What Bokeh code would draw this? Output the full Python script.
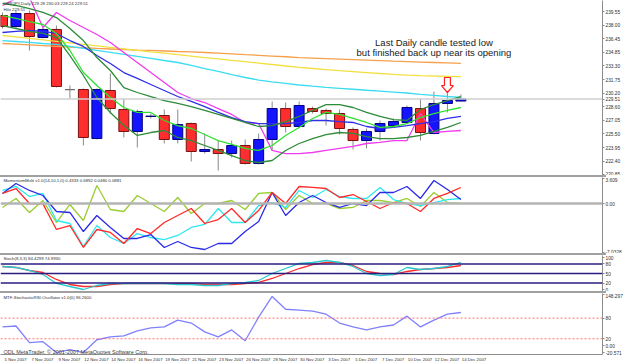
from bokeh.plotting import figure
from bokeh.layouts import column
from bokeh.models import (Range1d, FixedTicker, Span, Label, Div, PrintfTickFormatter)
from bokeh.embed import file_html
from bokeh.resources import INLINE

# ---------------- data ----------------
dates = ["5 Nov 2007", "6 Nov 2007", "7 Nov 2007", "8 Nov 2007", "9 Nov 2007",
         "11 Nov 2007", "12 Nov 2007", "13 Nov 2007", "14 Nov 2007", "15 Nov 2007", "16 Nov 2007",
         "18 Nov 2007", "19 Nov 2007", "20 Nov 2007", "21 Nov 2007", "22 Nov 2007", "23 Nov 2007",
         "25 Nov 2007", "26 Nov 2007", "27 Nov 2007", "28 Nov 2007", "29 Nov 2007", "30 Nov 2007",
         "2 Dec 2007", "3 Dec 2007", "4 Dec 2007", "5 Dec 2007", "6 Dec 2007", "7 Dec 2007",
         "9 Dec 2007", "10 Dec 2007", "11 Dec 2007", "12 Dec 2007", "13 Dec 2007", "14 Dec 2007"]

opens = [239.09, 237.83, 239.32, 236.57, 237.49, 230.58, 230.60, 224.98, 230.49, 228.31,
         225.79, 227.51, 227.62, 224.87, 226.70, 223.49, 223.72, 223.26, 224.18, 222.12,
         224.87, 228.42, 226.36, 228.42, 228.20, 227.85, 226.02, 224.75, 225.79, 226.47,
         226.82, 228.42, 225.56, 229.00, 229.28]
highs = [239.44, 239.67, 239.67, 237.72, 237.94, 231.06, 230.72, 230.72, 232.44, 229.57,
         228.31, 227.85, 228.31, 228.31, 226.82, 225.56, 224.75, 224.75, 224.87, 225.56,
         229.23, 229.11, 229.23, 228.65, 228.42, 228.31, 226.25, 226.13, 227.05, 227.28,
         228.77, 229.57, 230.37, 230.26, 230.03]
lows = [237.60, 237.60, 235.08, 236.45, 230.83, 229.57, 224.18, 224.87, 227.85, 225.10,
        223.95, 227.28, 224.41, 224.41, 222.35, 223.26, 221.31, 222.80, 222.00, 222.00,
        223.61, 225.67, 226.25, 227.85, 226.47, 225.44, 223.72, 223.84, 224.75, 226.25,
        226.70, 224.75, 225.44, 227.97, 229.24]
closes = [237.83, 239.32, 236.68, 237.49, 230.95, 230.58, 225.10, 230.60, 228.42, 225.79,
          228.08, 227.55, 224.87, 226.59, 223.49, 223.72, 223.26, 224.18, 222.12, 224.87,
          228.42, 226.36, 228.77, 228.08, 227.85, 226.13, 224.75, 225.79, 226.70, 226.93,
          228.54, 225.67, 229.00, 229.34, 229.51]

ma_orange = [235.88, 235.80, 235.72, 235.64, 235.56, 235.47, 235.39, 235.31, 235.25, 235.19,
             235.13, 235.08, 235.02, 234.96, 234.91, 234.85, 234.77, 234.69, 234.60, 234.52,
             234.44, 234.36, 234.27, 234.21, 234.15, 234.09, 234.03, 233.97, 233.91, 233.85,
             233.80, 233.75, 233.70, 233.65, 233.59]
ma_yellow = [236.80, 236.63, 236.46, 236.29, 236.12, 235.95, 235.78, 235.61, 235.44, 235.27,
             235.10, 234.93, 234.77, 234.60, 234.44, 234.27, 234.11, 233.95, 233.79, 233.63,
             233.47, 233.30, 233.13, 233.01, 232.89, 232.77, 232.66, 232.55, 232.44, 232.34,
             232.26, 232.20, 232.15, 232.11, 232.07]
ma_cyan = [236.22, 236.11, 236.00, 235.88, 235.77, 235.56, 235.33, 235.10, 234.87, 234.64,
           234.41, 234.18, 233.93, 233.70, 233.36, 233.01, 232.67, 232.32, 231.98, 231.69,
           231.47, 231.30, 231.12, 230.98, 230.85, 230.74, 230.63, 230.52, 230.42, 230.31,
           230.20, 230.05, 229.92, 229.80, 229.69]
hilo_magenta = [240.24, 241.04, 241.16, 237.72, 239.44, 238.52, 237.72, 236.91, 236.00, 234.85,
                233.70, 232.55, 231.41, 230.26, 229.57, 229.11, 228.42, 227.74, 226.82, 226.70,
                223.61, 223.26, 223.26, 223.38, 223.61, 223.84, 224.07, 224.41, 224.53, 224.75,
                224.75, 227.85, 225.67, 225.79, 225.90]
ma_blue = [237.14, 237.26, 237.37, 237.26, 237.03, 236.22, 235.54, 234.50, 233.59, 232.55,
           231.87, 231.18, 230.49, 229.80, 229.23, 228.65, 227.97, 227.39, 226.93, 226.70,
           226.70, 226.70, 226.82, 227.05, 227.05, 226.93, 226.82, 226.36, 226.13, 226.25,
           226.47, 226.70, 226.93, 227.28, 227.51]
band_upper = [240.47, 240.24, 239.89, 239.44, 238.86, 237.60, 236.22, 234.27, 232.78, 230.83,
              230.26, 229.80, 229.34, 229.00, 228.65, 228.20, 227.74, 227.28, 226.82, 226.36,
              226.47, 226.93, 227.51, 228.20, 228.88, 228.88, 228.54, 227.97, 227.51, 227.16,
              227.05, 228.31, 228.88, 229.34, 229.80]
band_mid = [239.09, 238.75, 238.40, 238.06, 237.03, 235.08, 232.55, 231.06, 229.69, 228.54,
            227.97, 227.97, 227.05, 226.47, 226.13, 225.44, 224.75, 224.30, 223.84, 223.61,
            224.18, 225.33, 226.25, 227.28, 227.97, 227.74, 227.28, 226.82, 226.25, 226.36,
            226.70, 227.39, 227.85, 228.20, 228.54]
band_lower = [237.94, 237.60, 237.26, 237.03, 236.57, 234.50, 232.21, 229.69, 227.97, 226.47,
              225.33, 225.67, 225.90, 225.10, 224.75, 224.18, 223.61, 223.03, 222.46, 222.23,
              222.46, 223.61, 224.41, 224.98, 225.44, 225.67, 225.56, 225.21, 224.98, 224.98,
              225.10, 225.33, 225.79, 226.25, 226.82]

mom_red = [1.44, 2.15, 0.00, -0.05, -3.73, -3.16, -6.31, -3.73, -4.16, -5.74,
           -3.59, -4.31, -2.73, -1.72, -0.72, -2.87, -2.30, -0.72, -2.73, -1.00,
           1.58, 0.00, 2.44, 2.30, 2.15, 0.86, 1.29, 0.29, -0.72, 0.14,
           0.00, -1.15, 0.72, 1.44, 2.30]
mom_blue = [1.44, 2.87, 1.87, 1.15, -1.15, -1.29, -4.02, -1.72, -3.44, -5.02,
            -5.02, -4.45, -6.31, -5.45, -6.31, -6.60, -5.74, -5.74, -4.02, -2.58,
            1.58, -1.72, 0.14, 1.15, 0.14, -0.57, 0.00, -0.29, 1.58, 1.58,
            2.44, 0.72, 3.30, 2.01, 0.57]
mom_cyan = [1.87, 2.44, 1.00, 1.44, -2.44, -2.87, -6.17, -3.16, -4.88, -5.74,
            -4.31, -4.88, -5.17, -4.59, -3.44, -3.01, -0.72, -2.73, -2.73, -0.29,
            0.14, -0.57, 1.87, 0.86, 2.01, 1.00, 0.72, 0.72, 2.30, 0.57,
            0.00, -0.29, 0.14, 0.57, 0.72]
mom_olive = [-0.57, 0.72, -1.29, 0.43, -2.73, -0.14, -2.44, 2.58, -0.86, -1.15,
             1.15, 0.00, -1.15, 0.86, -1.44, 0.00, 0.00, 0.43, -0.86, 1.44,
             1.58, -0.86, 1.15, 0.00, 0.00, -0.72, -0.57, 0.43, 0.43, 0.14,
             0.72, -0.43, 1.58, 0.14, 0.00]

stoch_main = [71.9, 68.8, 59.4, 46.9, 18.8, 9.4, 0.0, 12.5, 18.8, 18.8,
              18.8, 18.8, 18.8, 15.6, 15.6, 12.5, 12.5, 18.8, 21.9, 28.1,
              50.0, 65.6, 81.3, 84.4, 90.6, 84.4, 71.9, 50.0, 43.8, 46.9,
              68.8, 62.5, 65.6, 71.9, 84.43]
stoch_signal = [71.9, 68.8, 59.4, 53.1, 31.3, 15.6, 9.4, 9.4, 15.6, 18.8,
                18.8, 18.8, 18.8, 18.8, 18.8, 15.6, 15.6, 15.6, 18.8, 21.9,
                34.4, 50.0, 65.6, 78.1, 84.4, 84.4, 75.0, 56.3, 50.0, 46.9,
                56.3, 62.5, 65.6, 68.8, 74.99]

srsi = [54.3, 57.1, 8.6, 11.4, -20.0, -11.4, -20.0, 17.1, 25.7, 28.6,
        42.9, 51.4, 54.3, 74.3, 65.7, 40.0, 25.7, 45.7, 14.3, 82.9,
        142.9, 105.7, 102.9, 100.0, 91.4, 65.7, 54.3, 45.7, 54.3, 60.0,
        85.7, 54.3, 74.3, 91.4, 96.26]

price_ticks = [239.55, 238.00, 236.45, 234.85, 233.30, 231.75, 230.20, 229.51, 228.60,
               227.05, 225.50, 223.95, 222.40, 220.85]
mom_ticks = {3.609: "3.609", 0: "0.00", -7.0328: "-7.0328"}
stoch_ticks = {100: "100", 80: "80", 50: "50", 20: "20", 0: "0"}
stoch_levels = [80, 50, 20]
rsi_ticks = {148.297: "148.297", 80: "80", 20: "20", 0: "0.00", -20.571: "-20.571"}
rsi_levels = [80, 20]

main_title = "GBPJPY,Daily  229.28 230.03 229.24 229.51"
main_sub = "Hilo 229.51"
mom_title = "MomentumMulti v1.0(14,10,1,0) 0.4333 0.6892 0.0480 0.0881"
stoch_title = "Stoch(8,3,3) 84.4299 74.9930"
rsi_title = "MTF-StochasticRSI-Oscillator v1.0(0) 96.2600"
note1 = "Last Daily candle tested low"
note2 = "but finished back up near its opening"
copyright_text = "ODL MetaTrader, \u00a9 2001-2007 MetaQuotes Software Corp."

# ---------------- layout helpers ----------------
FONT = "Liberation Sans"
FRAME_W = 605
BAR_PX = 13.55
x0 = -2.0 / BAR_PX
xr = Range1d(x0, x0 + FRAME_W / BAR_PX)
idx = list(range(len(closes)))


def pane(height, rng, bottom=0, xaxis=False):
    p = figure(width=625, height=height, x_range=xr, y_range=rng,
               output_backend="svg", toolbar_location=None,
               x_axis_location="below" if xaxis else None, y_axis_location="right",
               min_border_left=0, min_border_right=20, min_border_top=0,
               min_border_bottom=bottom)
    p.grid.visible = False
    p.outline_line_color = None
    p.background_fill_color = "white"
    p.border_fill_color = "white"
    ax = p.yaxis[0]
    ax.axis_line_color = "#8c8c8c"
    ax.axis_line_width = 1
    ax.major_tick_line_color = "#8c8c8c"
    ax.major_tick_out = 2
    ax.major_tick_in = 0
    ax.minor_tick_line_color = None
    ax.major_label_standoff = 1
    ax.major_label_text_font = FONT
    ax.major_label_text_font_size = "4.8px"
    ax.major_label_text_color = "#303030"
    return p


def ypos(p, px):
    fh = p.height - p.min_border_bottom
    r = p.y_range
    return r.end - px * (r.end - r.start) / fh


def title(p, text, px, size="4.3px"):
    p.add_layout(Label(x=xr.start, y=ypos(p, px), x_offset=3, text=text,
                       text_font=FONT, text_font_size=size, text_color="#303030",
                       text_baseline="middle"))


# ---------------- main price pane ----------------
pm = pane(175, Range1d(220.74, 240.812))
pm.yaxis[0].ticker = FixedTicker(ticks=price_ticks)
pm.yaxis[0].formatter = PrintfTickFormatter(format="%.2f")

pm.add_layout(Span(location=closes[-1], dimension="width", line_color="#cfcfcf", line_width=1.5))

pm.segment(x0=idx, y0=lows, x1=idx, y1=highs, line_color="#8a8a8a", line_width=1)
up = [i for i in idx if closes[i] > opens[i]]
dn = [i for i in idx if closes[i] < opens[i]]
eq = [i for i in idx if closes[i] == opens[i]]
pm.vbar(x=up, width=0.74, top=[closes[i] for i in up], bottom=[opens[i] for i in up],
        fill_color="#1414ff", line_color="#000080", line_width=1)
pm.vbar(x=dn, width=0.74, top=[opens[i] for i in dn], bottom=[closes[i] for i in dn],
        fill_color="#ff2e2e", line_color="#7a1010", line_width=1)
pm.segment(x0=[i - 0.37 for i in eq], y0=[opens[i] for i in eq],
           x1=[i + 0.37 for i in eq], y1=[opens[i] for i in eq],
           line_color="#707070", line_width=1.2)

for series, col in [(ma_orange, "#f5a04a"), (ma_yellow, "#f2e040"), (ma_cyan, "#3cdcf0"),
                    (hilo_magenta, "#ee3cee"), (ma_blue, "#2f2fe6"),
                    (band_upper, "#2e8b3a"), (band_lower, "#2e8b3a"), (band_mid, "#30e030")]:
    pm.line(idx, series, line_color=col, line_width=1.3)

# hollow red arrow above the last-but-one candle
ab = 33
tip = highs[ab]
hx, sx, hh, sh = 0.44, 0.22, 0.8, 1.72
pm.patch([ab, ab - hx, ab - sx, ab - sx, ab + sx, ab + sx, ab + hx],
         [tip, tip + hh, tip + hh, tip + sh, tip + sh, tip + hh, tip + hh],
         fill_color="white", line_color="#ff2020", line_width=1.2)

pm.add_layout(Label(x=32.0, y=ypos(pm, 41.5), text=note1, text_font=FONT,
                    text_font_size="9.5px", text_color="#202020", text_align="center",
                    text_baseline="alphabetic"))
pm.add_layout(Label(x=32.0, y=ypos(pm, 51.5), text=note2, text_font=FONT,
                    text_font_size="9.5px", text_color="#202020", text_align="center",
                    text_baseline="alphabetic"))
title(pm, main_title, 3)
title(pm, main_sub, 9)

# ---------------- momentum pane ----------------
pmo = pane(76, Range1d(-7.175, 3.731))
pmo.yaxis[0].ticker = FixedTicker(ticks=list(mom_ticks.keys()))
pmo.yaxis[0].major_label_overrides = mom_ticks
pmo.add_layout(Span(location=0, dimension="width", line_color="#b4b4b4", line_width=2.5))
for series, col in [(mom_olive, "#9acd32"), (mom_cyan, "#2ee8f0"),
                    (mom_blue, "#2a2ae6"), (mom_red, "#ff2a2a")]:
    pmo.line(idx, series, line_color=col, line_width=1.3)
title(pmo, mom_title, 3)

# ---------------- stochastic pane ----------------
pst = pane(36, Range1d(-6.25, 106.25))
pst.yaxis[0].ticker = FixedTicker(ticks=list(stoch_ticks.keys()))
pst.yaxis[0].major_label_overrides = stoch_ticks
for lv in stoch_levels:
    pst.add_layout(Span(location=lv, dimension="width", line_color="#2a1c80", line_width=1.5))
pst.line(idx, stoch_signal, line_color="#ff2a2a", line_width=1.3)
pst.line(idx, stoch_main, line_color="#28c8d0", line_width=1.3)
title(pst, stoch_title, 3)

# ---------------- stochastic RSI pane + date axis ----------------
prs = pane(71, Range1d(-25.71, 151.43), bottom=9, xaxis=True)
prs.yaxis[0].ticker = FixedTicker(ticks=list(rsi_ticks.keys()))
prs.yaxis[0].major_label_overrides = rsi_ticks
for lv in rsi_levels:
    prs.add_layout(Span(location=lv, dimension="width", line_color="#ff7070",
                        line_width=1, line_dash="2 2"))
prs.line(idx, srsi, line_color="#8080ff", line_width=1.3)
title(prs, rsi_title, 4)
prs.add_layout(Label(x=xr.start, y=ypos(prs, 59.5), x_offset=3, text=copyright_text,
                     text_font=FONT, text_font_size="5.5px", text_color="#404040",
                     text_baseline="middle"))

# date labels: MetaTrader writes each date to the right of its bar, so the
# label centre sits about one bar to the right of the bar it names
LABEL_SHIFT = 0.97
date_bars = idx[::2]
label_pos = [i + LABEL_SHIFT for i in date_bars]
xa = prs.xaxis[0]
xa.ticker = FixedTicker(ticks=label_pos)
xa.major_label_overrides = {pos: dates[i] for pos, i in zip(label_pos, date_bars)}
xa.major_label_text_font = FONT
xa.major_label_text_font_size = "4.3px"
xa.major_label_text_color = "#303030"
xa.major_label_standoff = 2
xa.axis_line_color = "#8c8c8c"
xa.major_tick_line_color = None
xa.major_tick_out = 0
xa.major_tick_in = 0
xa.minor_tick_line_color = None


def sep():
    return Div(text="", width=FRAME_W + 1, height=2, margin=0,
               styles={"background-color": "#a0a0a0", "padding": "0", "overflow": "hidden"})


layout = column(pm, sep(), pmo, sep(), pst, sep(), prs, spacing=0, margin=0)
open("out.html", "w").write(file_html(layout, INLINE))
